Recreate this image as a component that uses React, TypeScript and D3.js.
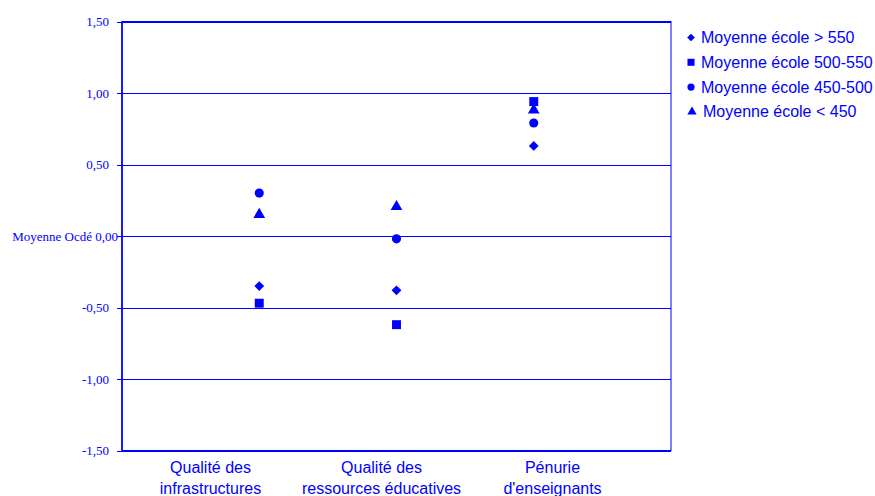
import React from "react";
import * as d3 from "d3";

const categories = ["Qualité des|infrastructures", "Qualité des|ressources éducatives", "Pénurie|d'enseignants"];
const seriesNames = ["Moyenne école > 550", "Moyenne école 500-550", "Moyenne école 450-500", "Moyenne école < 450"];
const seriesShapes = ["diamond", "square", "circle", "triangle"];
const above550 = [-0.35, -0.38, 0.63];
const from500to550 = [-0.47, -0.62, 0.94];
const from450to500 = [0.30, -0.02, 0.79];
const below450 = [0.15, 0.205, 0.88];
const seriesValues = [above550, from500to550, from450to500, below450];
const yTicks = [1.5, 1.0, 0.5, 0.0, -0.5, -1.0, -1.5];
const yTickLabels = ["1,50", "1,00", "0,50", "Moyenne Ocdé 0,00", "-0,50", "-1,00", "-1,50"];

const BLUE = "#0000FF";
const W = 875, H = 496;
const left = 122, right = 671, top = 21.5, bottom = 450.5;

// square rotated 45°, equal width and height
const diamondType = {
  draw(ctx: any, size: number) {
    const r = Math.sqrt(size / 2);
    ctx.moveTo(0, -r);
    ctx.lineTo(r, 0);
    ctx.lineTo(0, r);
    ctx.lineTo(-r, 0);
    ctx.closePath();
  },
};

const symbolFor = (s: string) =>
  s === "diamond" ? diamondType : s === "square" ? d3.symbolSquare : s === "circle" ? d3.symbolCircle : d3.symbolTriangle;
const sizeFor = (s: string) => (s === "diamond" ? 48 : s === "square" ? 80 : s === "circle" ? 66 : 60);

export default function App() {
  const x = d3.scaleLinear().domain([0, 4]).range([left, right]);
  const y = d3.scaleLinear().domain([-1.5, 1.5]).range([bottom, top]);
  const labelX = d3.scaleBand().domain(categories).range([left + 3, left + 3 + 3 * 171]);

  return (
    <svg width={W} height={H} style={{ position: "absolute", left: 0, top: 0, background: "#fff" }}>
      <rect x={left} y={top} width={right - left} height={bottom - top} fill="none" stroke={BLUE} strokeWidth={1} />
      {yTicks.map((t, i) => (
        <line key={"g" + i} x1={left} x2={right} y1={Math.round(y(t)) + 0.5} y2={Math.round(y(t)) + 0.5} stroke={BLUE} strokeWidth={1} />
      ))}
      <line x1={left} x2={left} y1={top} y2={bottom} stroke={BLUE} strokeWidth={1.6} />
      {yTicks.map((t, i) => (
        <g key={"t" + i}>
          <line x1={left - 5} x2={left} y1={Math.round(y(t)) + 0.5} y2={Math.round(y(t)) + 0.5} stroke={BLUE} strokeWidth={1} />
          <text
            x={t === 0 ? left - 4 : left - 13}
            y={y(t) + 4.5}
            textAnchor="end"
            fontFamily="'Liberation Serif', 'Times New Roman', serif"
            fontSize={13}
            fill={BLUE}
          >
            {yTickLabels[i]}
          </text>
        </g>
      ))}
      {categories.map((c) => {
        const lines = c.split("|");
        const cx = (labelX(c) as number) + labelX.bandwidth() / 2;
        return (
          <text key={c} textAnchor="middle" fontFamily="'Liberation Sans', Arial, sans-serif" fontSize={16} fill={BLUE}>
            {lines.map((l, j) => (
              <tspan key={j} x={cx} y={473 + j * 21}>{l}</tspan>
            ))}
          </text>
        );
      })}
      {seriesValues.map((vals, si) =>
        vals.map((v, ci) => (
          <path
            key={si + "-" + ci}
            transform={`translate(${x(ci + 1)},${y(v)})`}
            d={d3.symbol(symbolFor(seriesShapes[si]) as any, sizeFor(seriesShapes[si]))() as string}
            fill={BLUE}
          />
        ))
      )}
      {seriesNames.map((n, i) => {
        const cy = 37.5 + i * 24.8;
        const isTri = seriesShapes[i] === "triangle";
        return (
          <g key={n}>
            <path
              transform={`translate(${isTri ? 692 : 691},${cy})`}
              d={d3.symbol(symbolFor(seriesShapes[i]) as any, sizeFor(seriesShapes[i]) * 0.62)() as string}
              fill={BLUE}
            />
            <text x={isTri ? 703 : 701} y={cy + 5.5} fontFamily="'Liberation Sans', Arial, sans-serif" fontSize={16} fill={BLUE}>
              {n}
            </text>
          </g>
        );
      })}
    </svg>
  );
}
